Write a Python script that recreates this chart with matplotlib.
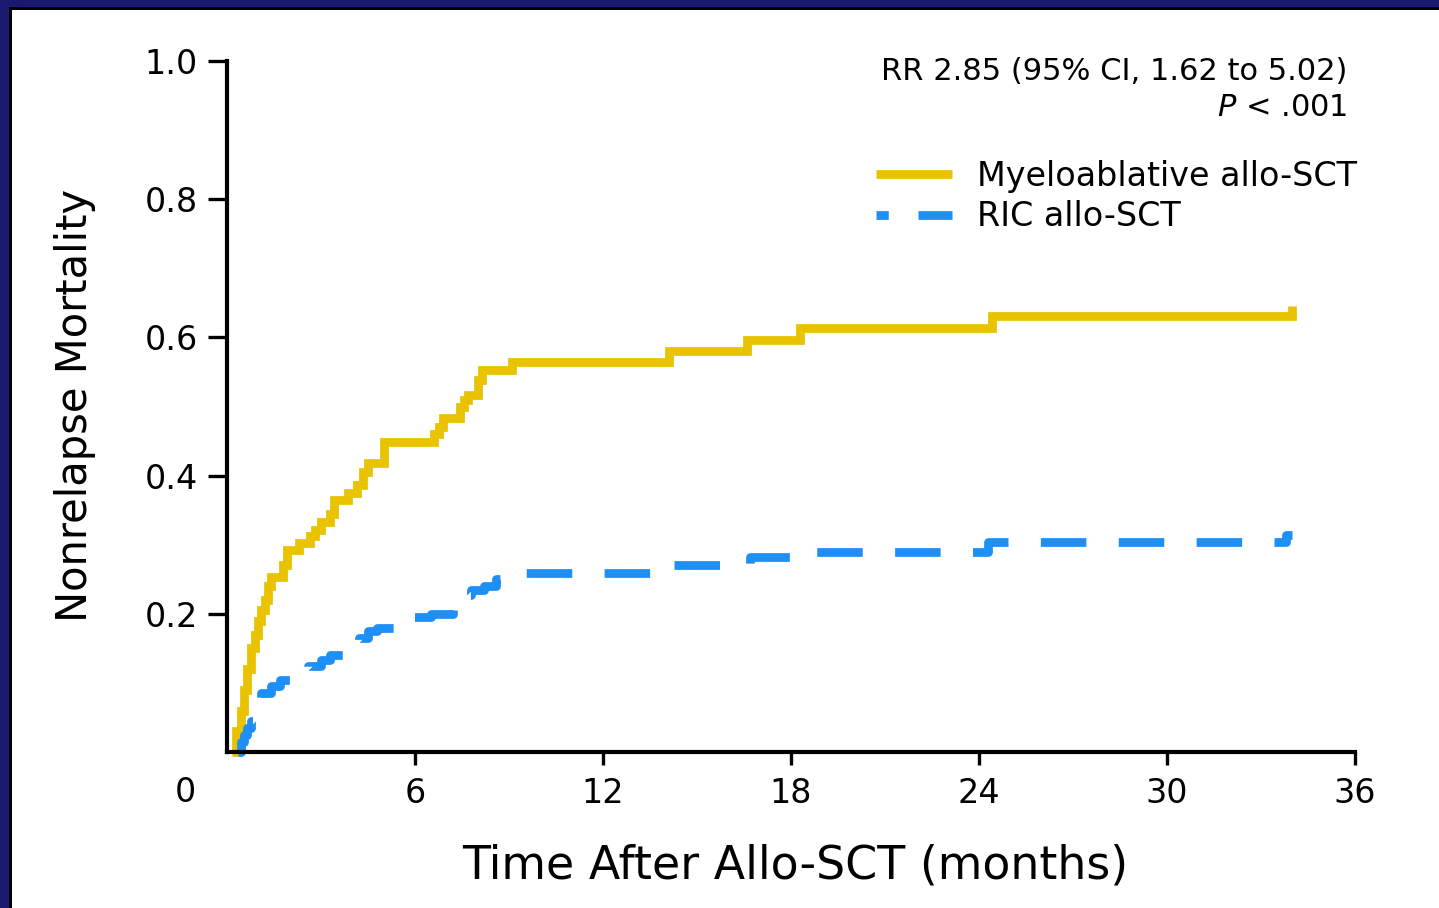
# Nonrelapse mortality curves, myeloablative vs RIC allo-SCT

import matplotlib
matplotlib.use('Agg')
import matplotlib.pyplot as plt
from matplotlib.patches import Rectangle
from matplotlib.lines import Line2D

# cumulative incidence steps (months, value)
mac_months = [0.15, 0.3, 0.45, 0.55, 0.65, 0.75, 0.9, 1.0, 1.1, 1.2, 1.3, 1.4, 1.8, 1.9,
              2.3, 2.65, 2.8, 3.0, 3.3, 3.4, 3.85, 4.15, 4.35, 4.5, 5.0, 6.6, 6.75, 6.9,
              7.45, 7.55, 7.7, 8.0, 8.15, 9.1, 14.1, 16.6, 18.3, 24.4, 34.0]
mac_nrm = [0.0, 0.03, 0.06, 0.09, 0.12, 0.15, 0.17, 0.19, 0.205, 0.22, 0.24, 0.253, 0.27, 0.292,
           0.302, 0.312, 0.321, 0.333, 0.345, 0.365, 0.375, 0.386, 0.405, 0.418, 0.449, 0.46, 0.47, 0.483,
           0.50, 0.51, 0.517, 0.538, 0.553, 0.564, 0.58, 0.596, 0.613, 0.631, 0.645]

ric_months = [0.35, 0.45, 0.55, 0.65, 0.75, 0.85, 1.0, 1.1, 1.4, 1.7, 2.2, 2.6, 3.0, 3.3,
              3.9, 4.2, 4.5, 4.8, 5.4, 6.5, 7.2, 7.4, 7.8, 8.2, 8.6, 9.1, 14.1, 16.7,
              18.2, 24.3, 33.8, 34.0]
ric_nrm = [0.0, 0.015, 0.025, 0.035, 0.045, 0.055, 0.075, 0.085, 0.095, 0.104, 0.12, 0.125, 0.133, 0.14,
           0.158, 0.165, 0.175, 0.18, 0.195, 0.2, 0.215, 0.227, 0.235, 0.24, 0.25, 0.259, 0.27, 0.282,
           0.29, 0.304, 0.314, 0.314]

x_ticks = [6, 12, 18, 24, 30, 36]
y_ticks = [0.2, 0.4, 0.6, 0.8, 1.0]

gold = '#e9c300'
blue = '#1e8ff5'
navy = '#1b1870'

fig = plt.figure(figsize=(14.39, 9.08), dpi=100, facecolor=navy)

# white slide panel with a dark edge
W, H = 1439, 908
fig.patches.append(Rectangle((9 / W, 0), 1, 1 - 7 / H, transform=fig.transFigure,
                             facecolor='black', edgecolor='none', zorder=-10))
fig.patches.append(Rectangle((12 / W, 0), 1, 1 - 10 / H, transform=fig.transFigure,
                             facecolor='white', edgecolor='none', zorder=-9))

ax = fig.add_axes([227 / W, 1 - 752 / H, (1355 - 227) / W, (752 - 61) / H])
ax.set_facecolor('none')
ax.set_zorder(2)

ax.step(mac_months, mac_nrm, where='post', color=gold, lw=6.3,
        solid_capstyle='butt', solid_joinstyle='miter', clip_on=False, zorder=3,
        label='Myeloablative allo-SCT')
ax.step(ric_months, ric_nrm, where='post', color=blue, lw=6.3,
        linestyle=(0, (5.2, 3.7)), dash_capstyle='butt', clip_on=False, zorder=4,
        label='RIC allo-SCT')

ax.set_xlim(0, 36)
ax.set_ylim(0, 1)
ax.set_xticks(x_ticks)
ax.set_yticks(y_ticks)
ax.set_yticklabels(['%.1f' % v for v in y_ticks])

for s in ['top', 'right']:
    ax.spines[s].set_visible(False)
for s in ['left', 'bottom']:
    ax.spines[s].set_linewidth(3.0)
    ax.spines[s].set_capstyle('projecting')
    ax.spines[s].set_zorder(5)

ax.tick_params(axis='y', direction='out', length=14, width=2.4, pad=7, labelsize=24)
ax.tick_params(axis='x', direction='out', length=9, width=2.4, pad=9, labelsize=24)

# shared origin label
ax.annotate('0', xy=(0, 0), xycoords='data', xytext=(-42, -41), textcoords='offset pixels',
            ha='center', va='center', fontsize=24, annotation_clip=False)

fig.text(795 / W, 1 - 866 / H, 'Time After Allo-SCT (months)', ha='center', va='center', fontsize=33)
fig.text(75 / W, 1 - 405 / H, 'Nonrelapse Mortality', ha='center', va='center',
         rotation=90, fontsize=30)

fig.text(1347 / W, 1 - 72 / H, 'RR 2.85 (95% CI, 1.62 to 5.02)', ha='right', va='center', fontsize=22)
fig.text(1347 / W, 1 - 108 / H, r'$P$ < .001', ha='right', va='center', fontsize=22)

# legend samples
h1 = Line2D([], [], color=gold, lw=6.3, solid_capstyle='butt')
h2 = Line2D([], [], color=blue, lw=6.3, linestyle=(2.5, (3.9, 3.4)), dash_capstyle='butt')
ax.legend([h1, h2], ['Myeloablative allo-SCT', 'RIC allo-SCT'], loc='upper left',
          bbox_to_anchor=((876 - 227) / 1128, (752 - 160) / 691), frameon=False,
          fontsize=24, handlelength=2.28, handletextpad=0.75, labelspacing=0.22,
          borderpad=0, borderaxespad=0)

fig.savefig('out.png', dpi=100, facecolor=navy)
